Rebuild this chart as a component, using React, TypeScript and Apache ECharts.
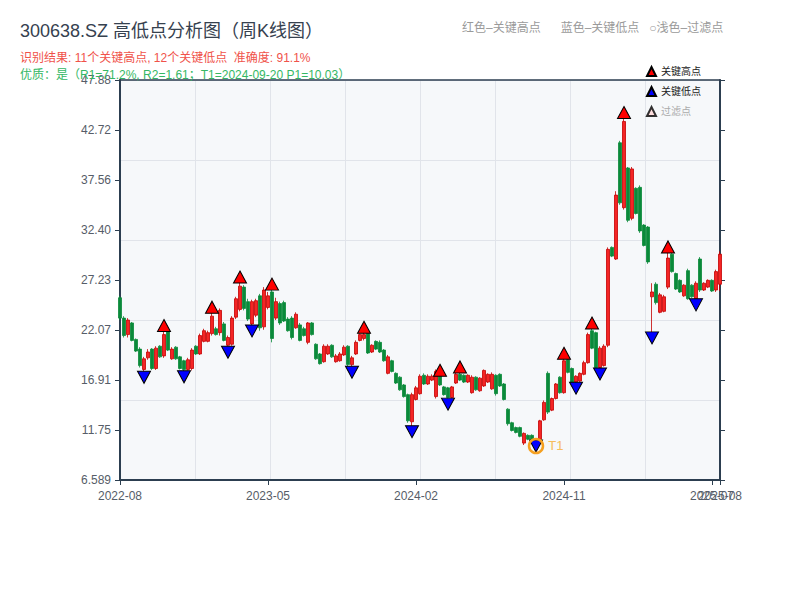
import React, { useEffect, useRef } from "react";
import * as echarts from "echarts";

// ---------- data ----------
const firstWeek = "2022-08-19";
const closedWeeks = ["2022-10-07", "2023-01-27", "2023-10-06", "2024-02-16", "2024-05-03"];

// [open, close, low, high]
const candles: number[][] = [
  [25.4, 23.3, 23.1, 25.6], [23.3, 21.5, 21.3, 23.5], [21.6, 23.1, 21.3, 23.3], [22.8, 21.0, 20.9, 22.9],
  [21.1, 19.9, 19.8, 21.2], [20.1, 18.4, 18.2, 20.3], [18.0, 19.1, 17.8, 19.3], [19.2, 19.8, 19.0, 20.1],
  [20.1, 18.1, 17.95, 20.2], [18.1, 20.2, 17.95, 20.4], [20.4, 19.3, 19.2, 20.5], [19.4, 21.6, 19.2, 22.05],
  [21.9, 20.0, 19.9, 21.95], [19.1, 20.1, 19.0, 20.3], [20.3, 19.1, 19.0, 20.4], [19.3, 18.1, 18.0, 19.4],
  [18.9, 18.0, 17.85, 19.0], [18.0, 19.0, 17.9, 19.2], [18.1, 20.0, 17.9, 20.2], [20.4, 19.6, 19.5, 20.5],
  [19.6, 21.5, 19.5, 21.7], [20.9, 22.0, 20.8, 22.2], [20.9, 21.8, 20.8, 22.0], [21.7, 23.5, 21.5, 23.85],
  [22.2, 21.6, 21.5, 22.4], [21.8, 24.1, 21.5, 24.3], [22.7, 21.0, 20.9, 22.9], [20.5, 21.3, 20.4, 21.5],
  [20.6, 23.3, 20.45, 23.5], [23.4, 25.3, 23.2, 25.5], [24.2, 26.6, 24.0, 26.97], [26.5, 24.3, 24.1, 26.7],
  [25.0, 23.2, 23.0, 25.3], [22.7, 25.0, 22.55, 25.2], [23.6, 25.1, 23.4, 25.3], [25.6, 22.3, 22.0, 25.8],
  [22.4, 26.2, 22.1, 26.5], [24.4, 25.6, 24.2, 26.0], [26.0, 21.2, 20.8, 26.25], [23.3, 25.0, 23.1, 25.4],
  [24.8, 22.8, 22.6, 25.0], [24.9, 23.0, 22.9, 25.1], [23.2, 22.0, 21.9, 23.4], [23.3, 21.3, 21.1, 23.5],
  [22.3, 23.7, 22.2, 23.9], [22.6, 21.0, 20.9, 22.8], [22.2, 21.5, 21.4, 22.4], [20.8, 22.8, 20.6, 22.9],
  [22.8, 21.6, 21.5, 22.9], [20.6, 19.1, 19.0, 20.7], [19.6, 18.6, 18.5, 19.7], [18.8, 20.4, 18.7, 20.6],
  [19.6, 20.4, 19.5, 20.6], [20.5, 19.3, 19.2, 20.6], [18.8, 19.4, 18.7, 19.6], [18.9, 19.6, 18.8, 19.8],
  [19.5, 20.3, 19.4, 20.5], [20.4, 18.5, 18.3, 20.5], [18.5, 19.2, 18.3, 19.4], [19.6, 20.8, 19.5, 21.0],
  [21.0, 21.6, 20.9, 21.7], [21.2, 21.6, 21.0, 21.77], [21.7, 19.7, 19.6, 21.7], [19.8, 20.5, 19.7, 20.6],
  [20.9, 20.1, 20.0, 21.0], [20.8, 19.8, 19.7, 21.0], [20.0, 18.9, 18.8, 20.1], [17.6, 19.3, 17.5, 19.5],
  [18.9, 17.8, 17.7, 19.0], [17.6, 16.6, 16.5, 17.7], [17.2, 15.9, 15.8, 17.3], [16.4, 15.2, 15.1, 16.5],
  [15.4, 12.7, 12.5, 15.5], [12.6, 15.4, 12.17, 15.6], [14.9, 16.1, 14.8, 16.3], [15.5, 17.3, 15.4, 17.5],
  [17.4, 16.5, 16.4, 17.6], [16.5, 17.3, 16.4, 17.5], [16.9, 17.3, 16.8, 17.5], [15.2, 17.8, 15.0, 18.0],
  [17.3, 16.4, 16.3, 17.4], [16.2, 15.4, 15.3, 16.3], [16.1, 15.1, 15.0, 16.2], [15.1, 16.2, 15.0, 16.3],
  [16.6, 17.5, 16.5, 17.7], [17.5, 16.9, 16.8, 17.7], [17.4, 16.7, 16.6, 17.5], [16.7, 17.4, 16.6, 17.5],
  [15.6, 17.2, 15.5, 17.4], [17.2, 15.9, 15.8, 17.3], [15.8, 17.1, 15.7, 17.2], [16.3, 17.9, 16.2, 18.0],
  [16.7, 17.5, 16.6, 17.6], [16.0, 17.5, 15.9, 17.7], [17.4, 15.5, 15.3, 17.5], [17.5, 16.3, 16.2, 17.6],
  [16.5, 14.9, 14.8, 16.6], [13.9, 12.4, 12.2, 14.0], [12.5, 11.7, 11.6, 12.6], [12.0, 11.5, 11.4, 12.1],
  [12.0, 11.1, 11.0, 12.1], [10.4, 11.4, 10.2, 11.5], [11.2, 10.8, 10.7, 11.3], [11.2, 10.6, 10.5, 11.3],
  [10.8, 10.3, 10.03, 10.9], [10.8, 12.7, 10.6, 12.8], [12.8, 14.6, 12.7, 14.8], [17.6, 13.6, 13.4, 17.8],
  [13.8, 15.0, 13.7, 15.1], [15.0, 16.5, 14.9, 16.6], [17.2, 15.6, 15.5, 17.3], [15.6, 18.9, 15.5, 19.2],
  [19.0, 17.7, 17.6, 19.1], [18.1, 16.6, 16.5, 18.2], [16.7, 17.3, 16.6, 17.4], [16.8, 17.6, 16.7, 17.7],
  [17.5, 18.7, 17.4, 18.9], [18.7, 21.6, 18.6, 21.8], [22.0, 20.2, 20.1, 22.2], [21.8, 18.2, 18.1, 21.9],
  [18.2, 20.2, 18.1, 20.4], [18.4, 20.4, 18.3, 20.6], [20.5, 30.4, 20.3, 30.6], [30.6, 29.7, 29.6, 30.7],
  [29.4, 36.0, 29.3, 36.4], [41.4, 35.2, 35.0, 41.6], [34.7, 43.6, 34.5, 44.0], [38.8, 33.4, 33.2, 38.9],
  [33.6, 38.7, 33.4, 38.9], [36.7, 34.1, 34.0, 36.8], [36.8, 32.3, 32.1, 37.0], [32.9, 30.8, 30.7, 33.0],
  [32.7, 29.1, 28.9, 32.8], [25.5, 26.0, 21.8, 26.9], [26.8, 24.9, 24.7, 27.0], [23.9, 25.7, 23.8, 25.9],
  [24.0, 25.5, 23.9, 25.7], [26.5, 29.5, 26.3, 30.1], [29.9, 28.1, 28.0, 30.0], [27.9, 26.3, 26.2, 28.0],
  [27.2, 26.0, 25.9, 27.3], [25.6, 26.7, 25.5, 26.8], [28.2, 25.3, 25.2, 28.4], [26.7, 25.5, 25.4, 26.8],
  [25.3, 26.9, 25.2, 27.1], [29.4, 26.2, 26.0, 29.6], [26.2, 26.9, 26.1, 27.0], [26.5, 27.2, 26.4, 27.3],
  [27.2, 26.1, 26.0, 27.3], [26.2, 28.1, 26.0, 28.3], [26.8, 29.9, 26.1, 30.2],
];

const keyHighIdx = [11, 23, 30, 38, 61, 80, 85, 111, 118, 126, 137];
const keyHighVal = [22.54, 24.43, 27.54, 26.81, 22.36, 17.91, 18.26, 19.67, 22.8, 44.53, 30.65];
const keyLowIdx = [6, 16, 27, 33, 58, 73, 82, 104, 114, 120, 133, 144];
const keyLowVal = [17.19, 17.24, 19.78, 21.98, 17.71, 11.58, 14.42, 10.1, 16.07, 17.53, 21.26, 24.67];
const t1Idx = 104;
const t1Val = 10.1;

const yTickValues = [6.589, 11.75, 16.91, 22.07, 27.23, 32.4, 37.56, 42.72, 47.88];
const yTickLabels = ["6.589", "11.75", "16.91", "22.07", "27.23", "32.40", "37.56", "42.72", "47.88"];
const xLabelIdx = [0, 37, 74, 111, 150];
const xExtraLabelIdx = [148];

const titleText = "300638.SZ 高低点分析图（周K线图）";
const resultLine = "识别结果: 11个关键高点, 12个关键低点  准确度: 91.1%";
const qualityLine = "优质：是（R1=71.2%, R2=1.61；T1=2024-09-20 P1=10.03）";
const colorNote = "红色–关键高点      蓝色–关键低点   ○浅色–过滤点";

// ---------- helpers ----------
function buildWeeks(n: number): string[] {
  const out: string[] = [];
  let t = new Date(firstWeek + "T00:00:00Z").getTime();
  while (out.length < n) {
    const s = new Date(t).toISOString().slice(0, 10);
    if (!closedWeeks.includes(s)) out.push(s);
    t += 7 * 86400000;
  }
  return out;
}

const FONT = "'Liberation Sans', 'Noto Sans CJK SC', sans-serif";
const AXIS = "#2c3e50";
const GRIDLINE = "#e1e4ea";
const LABEL = "#565d68";

export default function App() {
  const ref = useRef<HTMLDivElement>(null);
  useEffect(() => {
    if (!ref.current) return;
    const chart = echarts.init(ref.current, null, { renderer: "svg" });
    const categories = buildWeeks(candles.length);
    const yMin = yTickValues[0];
    const yMax = yTickValues[yTickValues.length - 1];
    const fmtY = (v: number) => {
      let best = 0;
      for (let i = 1; i < yTickValues.length; i++) {
        if (Math.abs(yTickValues[i] - v) < Math.abs(yTickValues[best] - v)) best = i;
      }
      return yTickLabels[best];
    };
    const fmtX = (v: string) => String(v).slice(0, 7);
    const option: any = {
      animation: false,
      backgroundColor: "#ffffff",
      textStyle: { fontFamily: FONT },
      title: [
        { text: titleText, left: 20, top: 22, padding: 0, textStyle: { fontSize: 18, fontWeight: "normal", color: "#36414f", fontFamily: FONT } },
        { text: resultLine, left: 20, top: 52, padding: 0, textStyle: { fontSize: 12, fontWeight: "normal", color: "#f0524a", fontFamily: FONT } },
        { text: qualityLine, left: 20, top: 69, padding: 0, textStyle: { fontSize: 12, fontWeight: "normal", color: "#35b764", fontFamily: FONT } },
        { text: colorNote, left: 462, top: 22, padding: 0, textStyle: { fontSize: 12, fontWeight: "normal", color: "#9a9a9a", fontFamily: FONT } },
      ],
      legend: {
        orient: "vertical",
        left: 646,
        top: 66,
        padding: 0,
        itemWidth: 9,
        itemHeight: 9,
        itemGap: 9,
        selectedMode: false,
        textStyle: { fontSize: 10, color: "#222", fontFamily: FONT },
        data: [
          { name: "关键高点" },
          { name: "关键低点" },
          { name: "过滤点", textStyle: { color: "#aaaaaa" } },
        ],
      },
      grid: { left: 120, right: 80, top: 80, bottom: 120, show: true, backgroundColor: "#f6f8fa", borderWidth: 0 },
      xAxis: [
        {
          type: "category",
          data: categories,
          boundaryGap: false,
          position: "bottom",
          axisLine: { onZero: false, lineStyle: { color: AXIS, width: 2 } },
          axisTick: { length: 5, customValues: xLabelIdx, lineStyle: { color: AXIS } },
          axisLabel: { customValues: xLabelIdx, color: LABEL, fontSize: 12, margin: 10, formatter: fmtX },
          splitLine: { show: false },
        },
        {
          type: "value",
          position: "top",
          min: 0,
          max: 8,
          interval: 1,
          axisLine: { show: true, onZero: false, lineStyle: { color: AXIS, width: 1.5 } },
          axisTick: { show: false },
          axisLabel: { show: false },
          splitLine: { show: true, lineStyle: { color: GRIDLINE, width: 1 } },
        },
        {
          type: "category",
          data: categories,
          boundaryGap: false,
          position: "bottom",
          axisLine: { show: false, onZero: false },
          axisTick: { length: 5, customValues: xExtraLabelIdx, lineStyle: { color: AXIS } },
          axisLabel: { customValues: xExtraLabelIdx, color: LABEL, fontSize: 12, margin: 10, formatter: fmtX },
          splitLine: { show: false },
        },
      ],
      yAxis: [
        {
          type: "value",
          position: "left",
          min: yMin,
          max: yMax,
          axisLine: { show: true, onZero: false, lineStyle: { color: AXIS, width: 2 } },
          axisTick: { show: true, length: 5, customValues: yTickValues, lineStyle: { color: AXIS } },
          axisLabel: { customValues: yTickValues, formatter: fmtY, color: LABEL, fontSize: 12, margin: 9 },
          splitLine: { show: false },
        },
        {
          type: "value",
          position: "right",
          min: yMin,
          max: yMax,
          axisLine: { show: true, onZero: false, lineStyle: { color: AXIS, width: 2 } },
          axisTick: { show: true, length: 5, customValues: yTickValues, lineStyle: { color: AXIS } },
          axisLabel: { show: false },
          splitLine: { show: false },
        },
        {
          type: "value",
          position: "left",
          min: 0,
          max: 5,
          interval: 1,
          axisLine: { show: false, onZero: false },
          axisTick: { show: false },
          axisLabel: { show: false },
          splitLine: { show: true, lineStyle: { color: GRIDLINE, width: 1 } },
        },
      ],
      series: [
        {
          name: "K线",
          type: "candlestick",
          xAxisIndex: 0,
          yAxisIndex: 0,
          data: candles,
          barWidth: 2.6,
          itemStyle: {
            color: "#f42525",
            color0: "#0a8a3a",
            borderColor: "#c40000",
            borderColor0: "#0a8a3a",
            borderWidth: 0.8,
          },
          z: 2,
        },
        {
          name: "关键高点",
          type: "scatter",
          xAxisIndex: 0,
          yAxisIndex: 0,
          data: keyHighIdx.map((i, k) => [i, keyHighVal[k]]),
          symbol: "triangle",
          symbolSize: [13, 12],
          itemStyle: { color: "#ff0000", borderColor: "#000000", borderWidth: 1, opacity: 1 },
          z: 5,
        },
        {
          name: "关键低点",
          type: "scatter",
          xAxisIndex: 0,
          yAxisIndex: 0,
          data: keyLowIdx.map((i, k) => [i, keyLowVal[k]]),
          symbol: "triangle",
          symbolRotate: 180,
          symbolSize: [13, 12],
          itemStyle: { color: "#0000ff", borderColor: "#000000", borderWidth: 1, opacity: 1 },
          z: 5,
        },
        {
          name: "过滤点",
          type: "scatter",
          xAxisIndex: 0,
          yAxisIndex: 0,
          data: [],
          symbol: "triangle",
          symbolSize: 7,
          itemStyle: { color: "#ffd6d6", borderColor: "#000000", borderWidth: 1 },
        },
        {
          name: "T1",
          type: "scatter",
          xAxisIndex: 0,
          yAxisIndex: 0,
          data: [[t1Idx, t1Val]],
          symbol: "circle",
          symbolSize: 14,
          itemStyle: { color: "rgba(0,0,0,0)", borderColor: "#f5a020", borderWidth: 2.5, opacity: 1 },
          label: { show: true, formatter: "T1", position: "right", distance: 4, color: "#f6bd5c", fontSize: 13, fontFamily: FONT },
          z: 6,
        },
      ],
    };
    chart.setOption(option);
    return () => chart.dispose();
  }, []);
  return <div ref={ref} style={{ position: "fixed", left: 0, top: 0, width: 800, height: 600 }} />;
}
